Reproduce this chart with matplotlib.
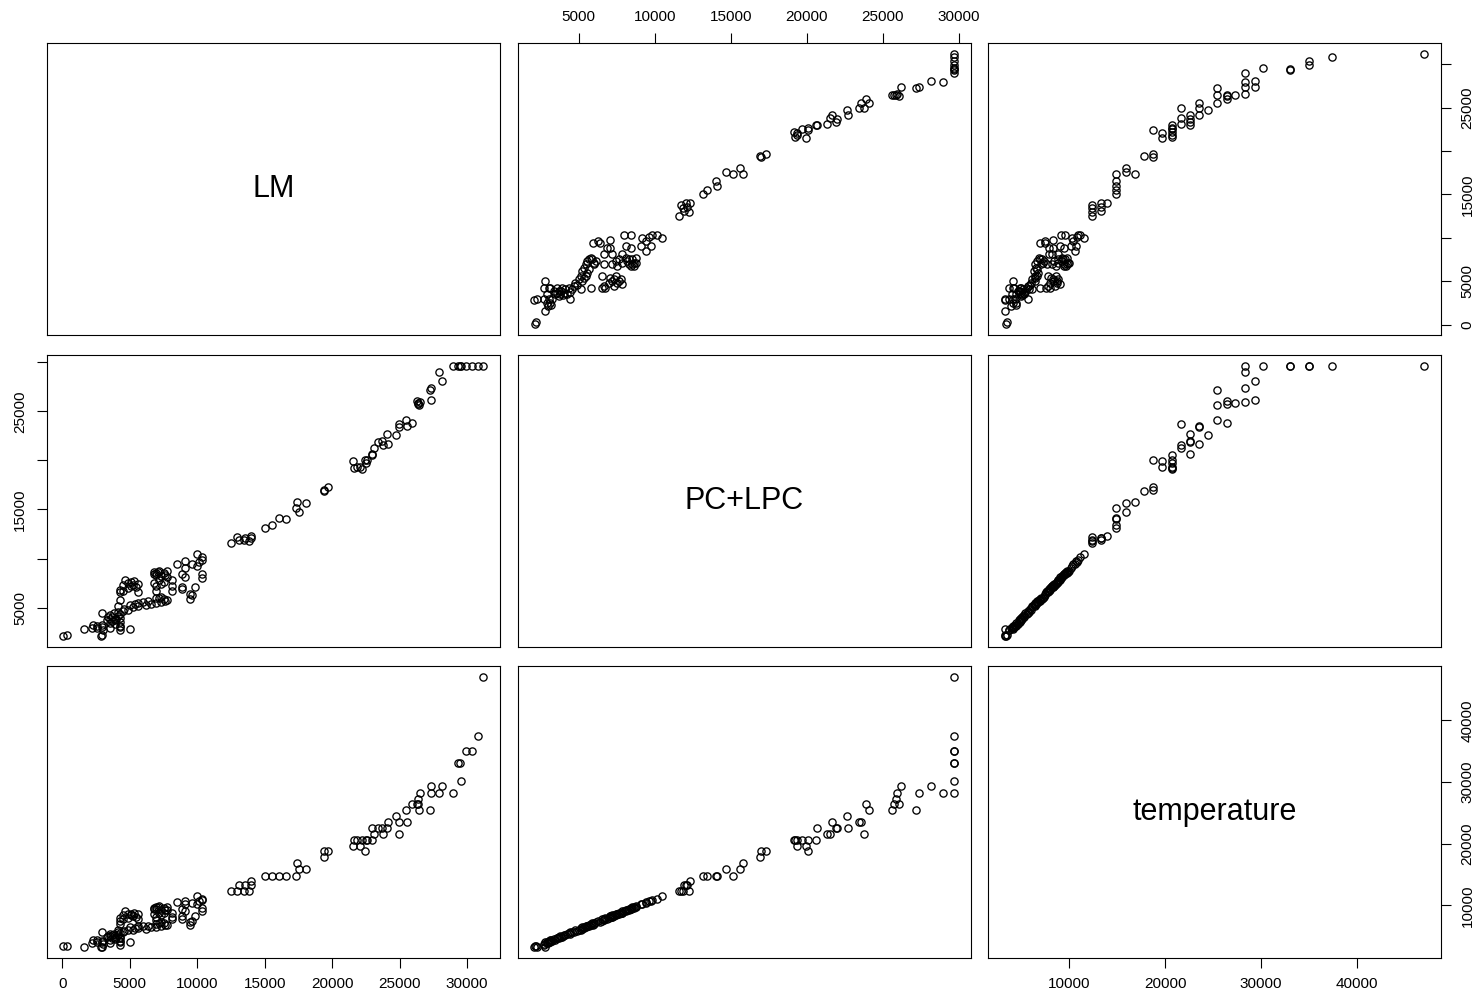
import numpy as np
import matplotlib.pyplot as plt

plt.rcParams['font.family'] = ['Liberation Sans', 'DejaVu Sans']

names = ["LM", "PC+LPC", "temperature"]

lm = [31180, 30850, 30360, 29940, 29450, 29350, 29540, 28950, 27950, 28110,
      27260, 27340, 27340, 26420, 26390, 26390, 26510, 26300, 25930, 25550,
      25470, 24980, 24980, 24710, 24100, 24140, 23680, 23760, 23070, 23370,
      22950, 22220, 21650, 21840, 22490, 22610, 22990, 22030, 21540, 22420,
      19670, 19360, 19400, 18030, 17380, 17340, 17530, 16560, 16030, 15530,
      15030, 12500, 13450, 12950, 13830, 13060, 13520, 14020, 14020,
      80, 340, 2860, 2940, 1600, 4280, 5040, 4280, 4280, 3520,
      2940, 2550, 2550, 2940, 2200, 2300, 3000, 4280, 3900, 3520,
      4280, 3710, 4090, 4280, 3520, 3520, 3900, 3300, 3400, 2940,
      3800, 3700, 3950, 4470, 4850, 5230, 5620, 6190, 6570, 6950,
      7330, 7600, 7720, 7530, 5040, 5620, 6380, 7140, 4600, 4090,
      4280, 6950, 7330, 5400, 4100, 6000, 9440, 9630, 9440, 9820,
      8100, 8100, 8860, 8860, 6950, 5620, 4470, 4280, 4280, 4860,
      5050, 5240, 4860, 5050, 4670, 5430, 5620, 5300, 4500, 6950,
      7330, 7530, 6760, 7140, 7720, 7330, 6950, 6760, 6950, 6760,
      7140, 7530, 7600, 7100, 10350, 10350, 9060, 8860, 7720, 9950,
      9630, 10150, 10350, 10350, 9060, 8480, 9060, 8100, 9950]

pc = [29650, 29650, 29650, 29650, 29650, 29650, 29650, 29650, 28970, 28140,
      27145, 27370, 26160, 25610, 25720, 25830, 25940, 26050, 23860, 23530,
      24080, 23750, 23420, 22605, 22720, 21670, 22000, 21550, 21290, 21890,
      20680, 19150, 19250, 19360, 19690, 20090, 20570, 19320, 19950, 20070,
      17280, 16950, 16910, 15630, 15790, 15150, 14710, 14050, 14100, 13440,
      13160, 11620, 11840, 12240, 11750, 11910, 12130, 12060, 12340,
      2145, 2210, 2080, 2250, 2800, 2690, 2800, 3030, 3140, 2910,
      3030, 3140, 2910, 3250, 2950, 3200, 2700, 3570, 3680, 3790,
      3900, 4010, 4120, 4340, 4230, 3460, 3350, 3700, 4000, 4450,
      4400, 3600, 3850, 4670, 4780, 5010, 5120, 5230, 5340, 5450,
      5560, 5670, 5780, 5890, 5230, 5450, 5670, 6000, 4900, 5120,
      5780, 6000, 6110, 5340, 4560, 5560, 5910, 6240, 6390, 7070,
      6650, 7200, 7090, 6870, 6650, 6540, 6650, 6540, 6760, 6980,
      7200, 7310, 7530, 7640, 7860, 7090, 7420, 7750, 7300, 7200,
      7420, 7640, 7530, 7860, 8080, 8190, 8300, 8420, 8530, 8640,
      8750, 8530, 8300, 8640, 7970, 8420, 8080, 8420, 8750, 9190,
      9410, 9630, 9850, 10140, 9080, 9410, 9740, 7860, 10480]

temperature = [47070, 37440, 35000, 35000, 33090, 33090, 30240, 28300, 28300, 29340,
               25450, 28300, 29340, 25450, 26460, 27330, 28300, 26460, 26460, 23520,
               25450, 21610, 23520, 24450, 22550, 23520, 22550, 21610, 21610, 22550,
               22550, 20670, 20670, 20670, 20670, 20670, 20670, 19700, 19700, 18760,
               18760, 18760, 17790, 15860, 16820, 14840, 15860, 14840, 14840, 14840,
               14840, 12380, 12380, 12380, 12380, 13340, 13340, 13340, 13940,
               3410, 3430, 3240, 3280, 3240, 3650, 4100, 4250, 4150, 3950,
               4050, 4380, 4150, 4300, 3900, 4450, 3700, 4800, 4700, 5050,
               4900, 5250, 5150, 5600, 5300, 4450, 4600, 4950, 5000, 5700,
               5400, 4800, 4850, 5650, 6000, 6050, 6350, 6250, 6550, 6450,
               6600, 6900, 6800, 7100, 6450, 6650, 6650, 7200, 5900, 6100,
               6950, 7000, 7300, 6350, 5750, 6750, 6900, 7450, 7400, 8250,
               7850, 8200, 8250, 7850, 7650, 7750, 7800, 7550, 7950, 8000,
               8400, 8300, 8700, 8650, 9050, 8100, 8600, 8750, 8450, 8200,
               8400, 8800, 8550, 8850, 9250, 9200, 9450, 9400, 9700, 9650,
               9900, 9550, 9300, 9800, 9100, 9550, 9050, 9400, 9750, 10300,
               10400, 10750, 10850, 11100, 10200, 10550, 10700, 8850, 11500]

# axis ticks per variable, and the labels R kept on the vertical axes
ticks = [[0, 5000, 10000, 15000, 20000, 25000, 30000],
         [5000, 10000, 15000, 20000, 25000, 30000],
         [10000, 20000, 30000, 40000]]
ylabels = [["0", "5000", "", "15000", "", "25000", ""],
           ["5000", "", "15000", "", "25000", ""],
           ["10000", "20000", "30000", "40000"]]

cols = [np.array(lm), np.array(pc), np.array(temperature)]


def padded(v):
    lo, hi = v.min(), v.max()
    d = 0.04 * (hi - lo)
    return lo - d, hi + d


W, H = 1480, 997
lefts = [46.7, 517.5, 988]
tops = [43, 355, 666]
pw, ph = 453, 292

fig = plt.figure(figsize=(14.8, 9.97), dpi=100)
for i in range(3):
    for j in range(3):
        ax = fig.add_axes([lefts[j] / W, 1 - (tops[i] + ph) / H, pw / W, ph / H])
        ax.set_xlim(padded(cols[j]))
        ax.set_ylim(padded(cols[i]))
        ax.set_xticks([])
        ax.set_yticks([])
        for s in ax.spines.values():
            s.set_linewidth(0.8)
        if i == j:
            ax.text(0.5, 0.5, names[i], transform=ax.transAxes,
                    ha='center', va='center', fontsize=22)
        else:
            ax.plot(cols[j], cols[i], 'o', ms=5.2, mfc='none', mec='black',
                    mew=0.95, ls='none')

        # outer axes like R's pairs(): alternate sides
        if i == 2 and j % 2 == 0:
            ax.set_xticks(ticks[j], [str(t) for t in ticks[j]])
            ax.tick_params(axis='x', bottom=True, labelbottom=True,
                           length=7, width=0.8, pad=7, labelsize=11)
        if i == 0 and j == 1:
            ax.set_xticks(ticks[j], [str(t) for t in ticks[j]])
            ax.tick_params(axis='x', bottom=False, labelbottom=False,
                           top=True, labeltop=True,
                           length=7, width=0.8, pad=7, labelsize=11)
        if j == 0 and i == 1:
            ax.set_yticks(ticks[i], ylabels[i])
            ax.tick_params(axis='y', left=True, labelleft=True,
                           length=7, width=0.8, pad=7, labelsize=11)
            for lab in ax.get_yticklabels():
                lab.set_rotation(90)
                lab.set_va('center')
        if j == 2 and i % 2 == 0:
            ax.set_yticks(ticks[i], ylabels[i])
            ax.tick_params(axis='y', left=False, labelleft=False,
                           right=True, labelright=True,
                           length=7, width=0.8, pad=7, labelsize=11)
            for lab in ax.get_yticklabels():
                lab.set_rotation(90)
                lab.set_va('center')

fig.savefig('out.png', dpi=100)
